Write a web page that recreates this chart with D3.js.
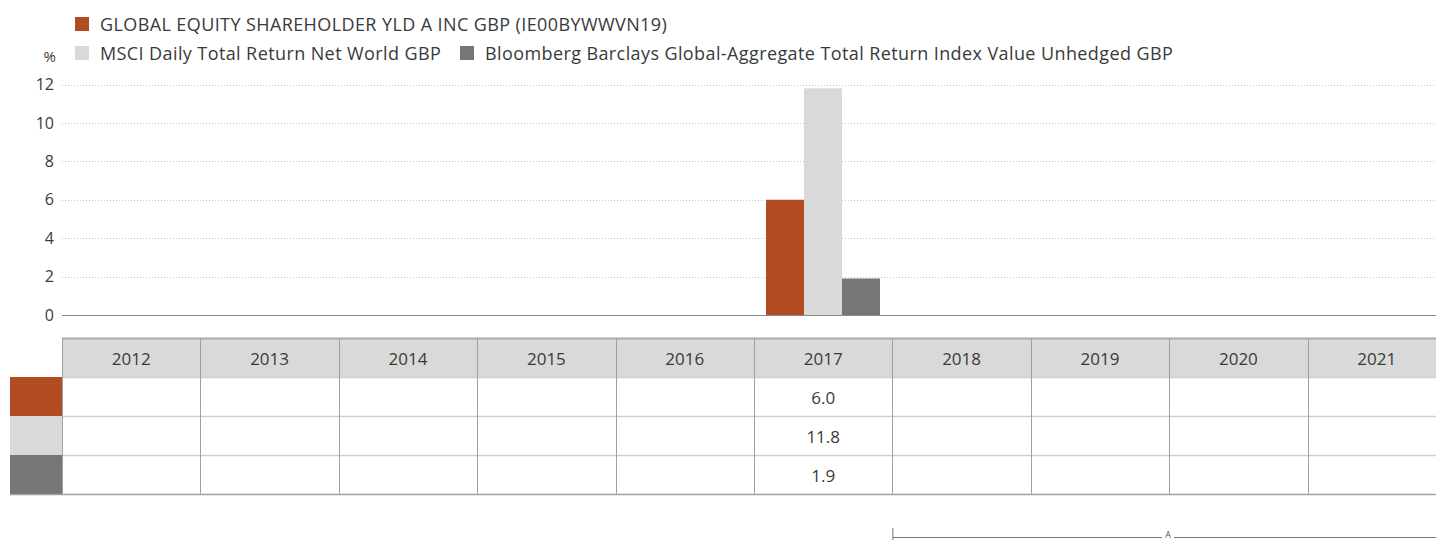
<!DOCTYPE html>
<html>
<head>
<meta charset="utf-8">
<script src="https://cdn.jsdelivr.net/npm/d3@7"></script>
<style>
  body { margin: 0; background: #fff; }
  svg { display: block; font-family: "Open Sans", sans-serif; }
</style>
</head>
<body>
<svg width="1436" height="540"></svg>
<script>
// Chart data
const years = ['2012', '2013', '2014', '2015', '2016', '2017', '2018', '2019', '2020', '2021'];
const seriesNames = [
  'GLOBAL EQUITY SHAREHOLDER YLD A INC GBP (IE00BYWWVN19)',
  'MSCI Daily Total Return Net World GBP',
  'Bloomberg Barclays Global-Aggregate Total Return Index Value Unhedged GBP'
];
const fundValues = [null, null, null, null, null, 6.0, null, null, null, null];
const msciValues = [null, null, null, null, null, 11.8, null, null, null, null];
const bbgValues = [null, null, null, null, null, 1.9, null, null, null, null];
const yTicks = [0, 2, 4, 6, 8, 10, 12];
const colors = ['#b14b22', '#d9d9d9', '#767676'];

const seriesValues = [fundValues, msciValues, bbgValues];

const svg = d3.select('svg');
const left = 62;
const colW = 138.4;
const textColor = '#3a3a3a';

// Scales
const x = d3.scaleBand().domain(years).range([left, left + colW * years.length]).padding(0);
const xs = d3.scaleBand().domain(d3.range(seriesNames.length)).range([12, 126]).padding(0);
const y = d3.scaleLinear().domain([0, 12]).range([315, 84.5]);

// Gridlines
svg.append('g')
  .selectAll('line')
  .data(yTicks.filter(d => d !== 0))
  .enter().append('line')
    .attr('x1', left).attr('x2', 1436)
    .attr('y1', d => Math.round(y(d)) + 0.5).attr('y2', d => Math.round(y(d)) + 0.5)
    .attr('stroke', '#c8c8c8')
    .attr('stroke-dasharray', '1,2');

// Y axis labels
const yAxis = svg.append('g')
  .attr('transform', `translate(${left},0)`)
  .call(d3.axisLeft(y).tickValues(yTicks).tickSize(0).tickPadding(8));
yAxis.select('.domain').remove();
yAxis.selectAll('text')
  .attr('font-size', 16)
  .attr('font-family', '"Open Sans", sans-serif')
  .attr('fill', textColor);

svg.append('text')
  .attr('x', 56).attr('y', 62)
  .attr('text-anchor', 'end')
  .attr('font-size', 15)
  .attr('fill', textColor)
  .text('%');

// Bars
seriesValues.forEach((vals, si) => {
  svg.append('g')
    .selectAll('rect')
    .data(years.map((yr, i) => ({ yr, v: vals[i] })).filter(d => d.v !== null))
    .enter().append('rect')
      .attr('x', d => x(d.yr) + xs(si))
      .attr('width', xs.bandwidth())
      .attr('y', d => y(Math.max(0, d.v)))
      .attr('height', d => Math.abs(y(d.v) - y(0)))
      .attr('fill', colors[si]);
});

// Zero line
svg.append('line')
  .attr('x1', left).attr('x2', 1436)
  .attr('y1', y(0) + 0.5).attr('y2', y(0) + 0.5)
  .attr('stroke', '#8a8a8a');

// Legend
const legendPos = [[75, 17], [75, 46], [460, 46]];
seriesNames.forEach((name, i) => {
  const g = svg.append('g').attr('transform', `translate(${legendPos[i][0]},${legendPos[i][1]})`);
  g.append('rect').attr('width', 14).attr('height', 14).attr('fill', colors[i]);
  g.append('text')
    .attr('x', 25).attr('y', 14)
    .attr('font-size', 18)
    .attr('letter-spacing', 0.4)
    .attr('fill', textColor)
    .text(name);
});

// Table
const headTop = 338;
const rowH = 39;
const table = svg.append('g');

table.append('rect')
  .attr('x', left).attr('y', headTop)
  .attr('width', colW * years.length).attr('height', rowH)
  .attr('fill', '#d9d9d9');

// swatches
colors.forEach((c, i) => {
  table.append('rect')
    .attr('x', 10).attr('y', headTop + rowH * (i + 1))
    .attr('width', left - 10).attr('height', rowH)
    .attr('fill', c);
});

// horizontal lines
[0, 1, 2, 3, 4].forEach(r => {
  table.append('line')
    .attr('x1', r === 4 ? 10 : left).attr('x2', 1436)
    .attr('y1', headTop + rowH * r + 0.5).attr('y2', headTop + rowH * r + 0.5)
    .attr('stroke', r === 0 ? '#aaaaaa' : (r === 4 ? '#a0a0a0' : '#cfcfcf'))
    .attr('stroke-width', r === 0 ? 2 : 1.5);
});

// vertical lines
years.forEach(yr => {
  table.append('line')
    .attr('x1', Math.round(x(yr)) + 0.5).attr('x2', Math.round(x(yr)) + 0.5)
    .attr('y1', headTop).attr('y2', headTop + rowH * 4)
    .attr('stroke', '#a0a0a0');
});

// header labels
table.selectAll('.year')
  .data(years)
  .enter().append('text')
    .attr('class', 'year')
    .attr('x', d => x(d) + colW / 2)
    .attr('y', headTop + rowH / 2 + 7)
    .attr('text-anchor', 'middle')
    .attr('font-size', 17)
    .attr('fill', textColor)
    .text(d => d);

// value cells
seriesValues.forEach((vals, si) => {
  table.append('g')
    .selectAll('text')
    .data(years.map((yr, i) => ({ yr, v: vals[i] })).filter(d => d.v !== null))
    .enter().append('text')
      .attr('x', d => x(d.yr) + colW / 2)
      .attr('y', headTop + rowH * (si + 1) + rowH / 2 + 7)
      .attr('text-anchor', 'middle')
      .attr('font-size', 17)
      .attr('fill', textColor)
      .text(d => d.v.toFixed(1));
});

// Period bracket
const bx = x('2018');
svg.append('line')
  .attr('x1', bx + 0.5).attr('x2', bx + 0.5)
  .attr('y1', 528).attr('y2', 540)
  .attr('stroke', '#777');
svg.append('line')
  .attr('x1', bx).attr('x2', 1162)
  .attr('y1', 537.5).attr('y2', 537.5)
  .attr('stroke', '#777');
svg.append('line')
  .attr('x1', 1174).attr('x2', 1436)
  .attr('y1', 537.5).attr('y2', 537.5)
  .attr('stroke', '#777');
svg.append('text')
  .attr('x', 1168).attr('y', 538)
  .attr('text-anchor', 'middle')
  .attr('font-size', 9)
  .attr('fill', '#555')
  .text('A');
</script>
</body>
</html>
